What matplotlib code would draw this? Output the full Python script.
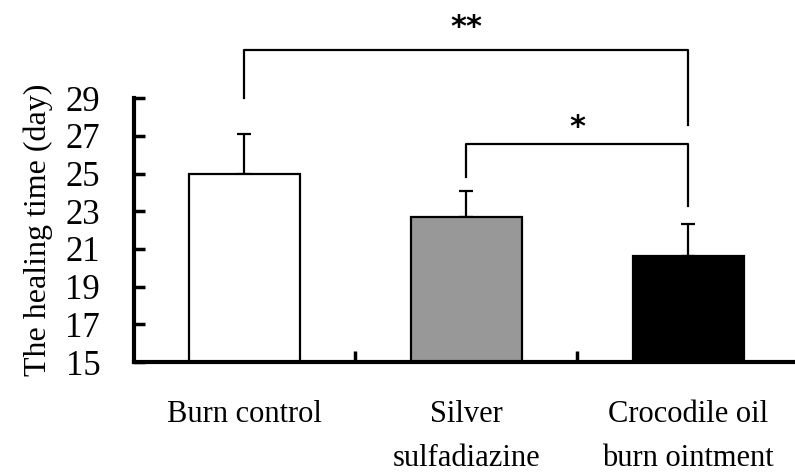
import numpy as np
import matplotlib
matplotlib.use('Agg')
import matplotlib.pyplot as plt

# healing time per treatment
groups = ['Burn control', 'Silver\nsulfadiazine', 'Crocodile oil\nburn ointment']
days = [25.0, 22.7, 20.6]
sd = [2.1, 1.4, 1.7]
colors = ['white', '#989898', 'black']
yticks = [15, 17, 19, 21, 23, 25, 27, 29]

plt.rcParams['font.family'] = 'Liberation Serif'

fig = plt.figure(figsize=(7.95, 4.72), dpi=100)
ax = fig.add_axes([0.168, 0.233, 0.837, 0.559])

x = np.arange(len(groups))
ax.bar(x, days, width=0.5, color=colors, edgecolor='black', linewidth=1.6, zorder=2)
ax.errorbar(x, days, yerr=[np.zeros(len(sd)), sd], fmt='none', ecolor='black',
            elinewidth=1.6, capsize=5, capthick=1.6, zorder=1)

ax.set_xlim(-0.5, 2.5)
ax.set_ylim(15, 29)
ax.set_yticks(yticks)
ax.set_xticks(x)
ax.set_xticklabels(groups, fontsize=22, linespacing=1.7)
ax.set_xticks([0.5, 1.5], minor=True)
ax.tick_params(axis='x', which='major', length=0, pad=27)
ax.tick_params(axis='x', which='minor', direction='in', length=8, width=2.5)
ax.tick_params(axis='y', direction='in', length=8, width=2.5, labelsize=25, pad=24)
ax.set_ylabel('The healing time (day)', fontsize=23, labelpad=9)

for s in ['top', 'right']:
    ax.spines[s].set_visible(False)
ax.spines['left'].set_linewidth(3)
ax.spines['bottom'].set_linewidth(3)

# significance brackets
lw = 1.6
ax.plot([0, 0, 2, 2], [29.0, 31.55, 31.55, 27.6], color='black', lw=lw, clip_on=False)
ax.text(1, 32.75, '**', ha='center', va='center', fontsize=22, fontweight='bold',
        family='DejaVu Sans')
ax.plot([1, 1, 2, 2], [24.8, 26.55, 26.55, 23.3], color='black', lw=lw, clip_on=False)
ax.text(1.5, 27.45, '*', ha='center', va='center', fontsize=22, fontweight='bold',
        family='DejaVu Sans')

fig.savefig('out.png', dpi=100)
